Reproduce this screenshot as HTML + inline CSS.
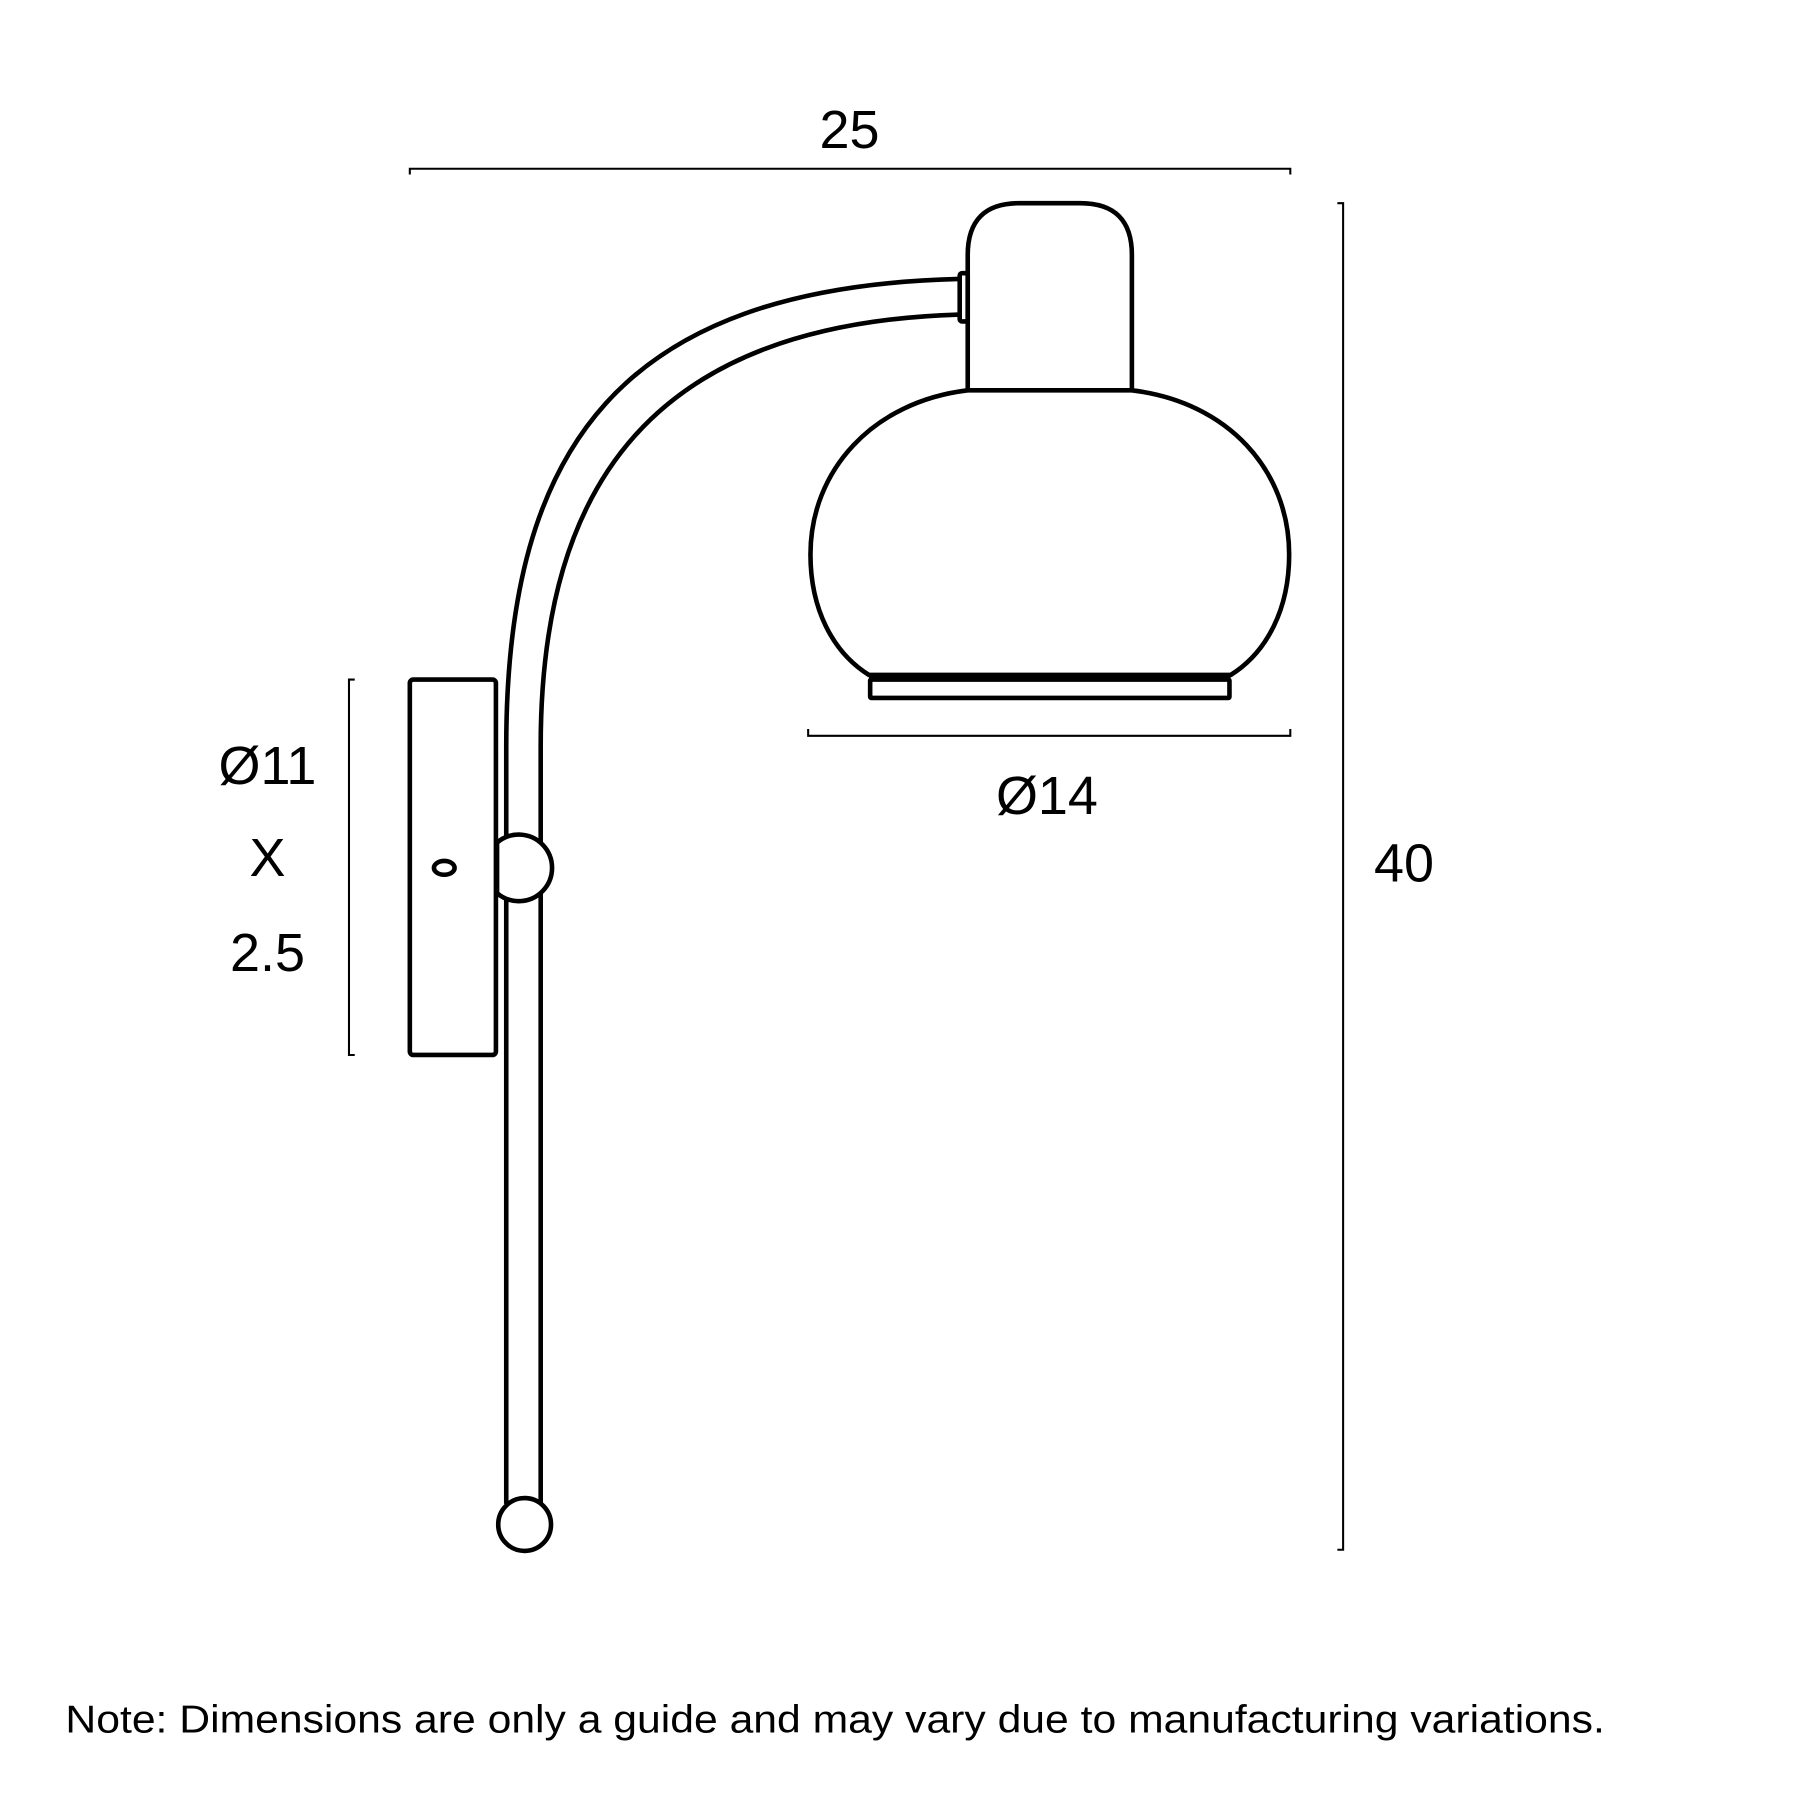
<!DOCTYPE html>
<html><head><meta charset="utf-8"><style>html,body{margin:0;padding:0;background:#fff}svg{display:block}</style></head>
<body>
<svg width="1800" height="1800" viewBox="0 0 1568 1568" xmlns="http://www.w3.org/2000/svg">
<rect width="1568" height="1568" fill="#fff"/>
<g fill="none" stroke="#000" stroke-width="1.8">
<path d="M357,152 L357,147 L1124,147 L1124,152"/>
<path d="M1165,177 L1170,177 L1170,1350 L1165,1350"/>
<path d="M309,592 L304,592 L304,919 L309,919"/>
<path d="M704,635 L704,641 L1124,641 L1124,635"/>
</g>
<g fill="none" stroke="#000" stroke-width="4" stroke-linejoin="round">
<rect x="357" y="592" width="75" height="327" rx="3"/>
<ellipse cx="387" cy="756" rx="9" ry="6"/>
<path d="M441,1310 L441,650 C441,390 540,250 836,243"/>
<path d="M471,1310 L471,650 C471,420 570,282 836,274"/>
<circle cx="457" cy="1328" r="23" fill="#fff"/>
<path d="M433,734 A29,29 0 1,1 433,778 Z" fill="#fff"/>
<rect x="836" y="238" width="7" height="42" rx="2"/>
<path d="M843,340 L843,222 Q843,177 888,177 L941,177 Q986,177 986,222 L986,340"/>
<path d="M843,340 C760,350 706,410 706,483 C706,530 725,568 757,588 L1072,588 C1104,568 1123,530 1123,483 C1123,410 1070,350 986,340 Z"/>
<line x1="757" y1="589" x2="1072" y2="589" stroke-width="6"/>
<rect x="758" y="592" width="313" height="16" rx="1"/>
</g>
<g font-family="'Liberation Sans', sans-serif" font-size="47" fill="#000" text-anchor="middle">
<text x="740" y="129">25</text>
<text x="1223" y="768">40</text>
<text x="912" y="709">Ø14</text>
<text x="233" y="683">Ø11</text>
<text x="233" y="763">X</text>
<text x="233" y="846">2.5</text>
</g>
<text x="57" y="1509" font-family="'Liberation Sans', sans-serif" font-size="34" textLength="1341" lengthAdjust="spacingAndGlyphs" fill="#000">Note: Dimensions are only a guide and may vary due to manufacturing variations.</text>
</svg>
</body></html>
